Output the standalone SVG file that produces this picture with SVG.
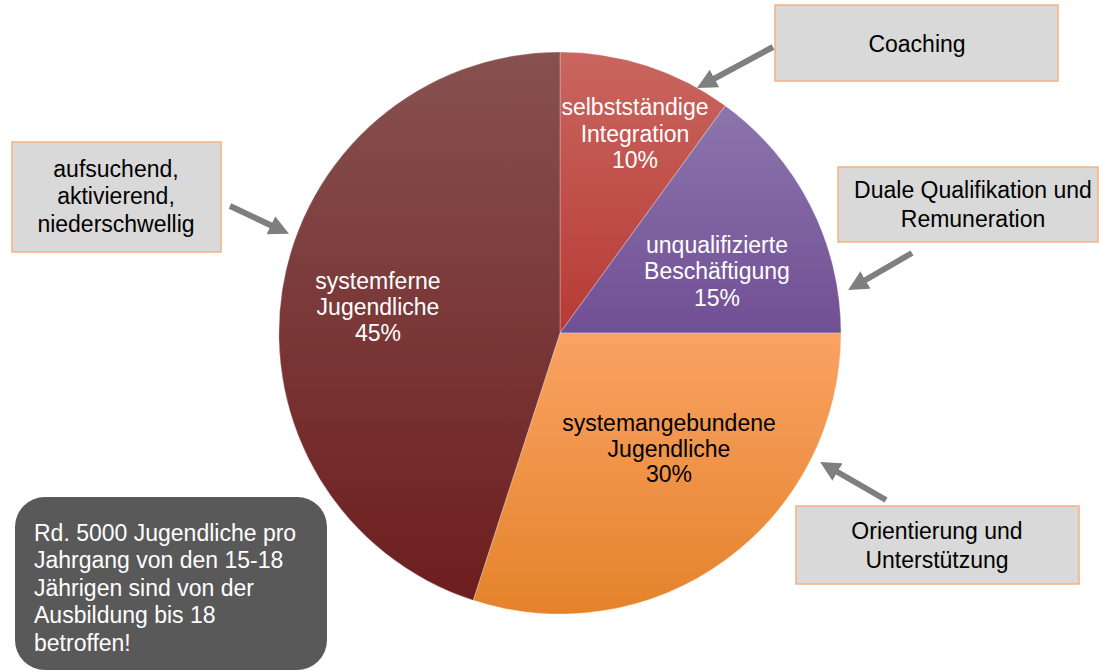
<svg xmlns="http://www.w3.org/2000/svg" width="1099" height="672" viewBox="0 0 1099 672">
<style>
text{font-family:"Liberation Sans",Arial,sans-serif;font-size:23px}
.w{fill:#ffffff}
.b{fill:#000000}
.c{text-anchor:middle}
.box{fill:#D9D9D9;stroke:#F4B183;stroke-width:1.5}
.arr{stroke:#7F7F7F;stroke-width:6;fill:none;marker-end:url(#ah)}
.sl{stroke:#ffffff;stroke-opacity:0.35;stroke-width:0.8}
</style>
<defs>
<linearGradient id="gRed" x1="0" y1="0" x2="0" y2="1"><stop offset="0" stop-color="#C9665F"/><stop offset="1" stop-color="#B73A36"/></linearGradient>
<linearGradient id="gPur" x1="0" y1="0" x2="0" y2="1"><stop offset="0" stop-color="#8C75AD"/><stop offset="1" stop-color="#714F94"/></linearGradient>
<linearGradient id="gOra" x1="0" y1="0" x2="0" y2="1"><stop offset="0" stop-color="#F9A263"/><stop offset="1" stop-color="#E5832B"/></linearGradient>
<linearGradient id="gDk" x1="0" y1="0" x2="0" y2="1"><stop offset="0" stop-color="#875150"/><stop offset="1" stop-color="#6D1E1E"/></linearGradient>
<marker id="ah" viewBox="0 0 10 10" refX="2" refY="5" markerWidth="20" markerHeight="20" markerUnits="userSpaceOnUse" orient="auto">
<path d="M0,0 L10,5 L0,10 Z" fill="#7F7F7F"/>
</marker>
</defs>

<g id="pie">
<path class="sl" d="M560,333 L560,52 A281,281 0 0 1 725.2,105.7 Z" fill="url(#gRed)"/>
<path class="sl" d="M560,333 L725.2,105.7 A281,281 0 0 1 841,333 Z" fill="url(#gPur)"/>
<path class="sl" d="M560,333 L841,333 A281,281 0 0 1 473.2,600.3 Z" fill="url(#gOra)"/>
<path class="sl" d="M560,333 L473.2,600.3 A281,281 0 0 1 560,52 Z" fill="url(#gDk)"/>
</g>

<g id="label-integration">
<text class="w c" x="635" y="115">selbstständige</text>
<text class="w c" x="635" y="142">Integration</text>
<text class="w c" x="635" y="168">10%</text>
</g>
<g id="label-beschaeftigung">
<text class="w c" x="717" y="253">unqualifizierte</text>
<text class="w c" x="717" y="279">Beschäftigung</text>
<text class="w c" x="717" y="306">15%</text>
</g>
<g id="label-systemangebunden">
<text class="b c" x="669" y="431">systemangebundene</text>
<text class="b c" x="669" y="457">Jugendliche</text>
<text class="b c" x="669" y="482">30%</text>
</g>
<g id="label-systemfern">
<text class="w c" x="378" y="289">systemferne</text>
<text class="w c" x="378" y="315">Jugendliche</text>
<text class="w c" x="378" y="341">45%</text>
</g>

<g id="node-coaching">
<rect class="box" x="775" y="5" width="283" height="76"/>
<text class="b c" x="917" y="52">Coaching</text>
</g>
<g id="node-duale">
<rect class="box" x="838" y="167" width="260" height="75"/>
<text class="b c" x="973" y="198">Duale Qualifikation und</text>
<text class="b c" x="973" y="227">Remuneration</text>
</g>
<g id="node-orientierung">
<rect class="box" x="796" y="506" width="283" height="78"/>
<text class="b c" x="937" y="539">Orientierung und</text>
<text class="b c" x="937" y="568">Unterstützung</text>
</g>
<g id="node-aufsuchend">
<rect class="box" x="12" y="142" width="209" height="110"/>
<text class="b c" x="116" y="177">aufsuchend,</text>
<text class="b c" x="116" y="204">aktivierend,</text>
<text class="b c" x="116" y="232">niederschwellig</text>
</g>
<g id="node-info">
<rect x="15" y="497" width="312" height="173" rx="30" ry="30" fill="#595959"/>
<text class="w" x="34" y="541">Rd. 5000 Jugendliche pro</text>
<text class="w" x="34" y="568">Jahrgang von den 15-18</text>
<text class="w" x="34" y="596">Jährigen sind von der</text>
<text class="w" x="34" y="623">Ausbildung bis 18</text>
<text class="w" x="34" y="651">betroffen!</text>
</g>

<g id="connectors">
<line class="arr" x1="773" y1="47" x2="711" y2="80.4"/>
<line class="arr" x1="912" y1="253" x2="862" y2="282"/>
<line class="arr" x1="886" y1="500" x2="834" y2="470"/>
<line class="arr" x1="230" y1="206" x2="274.5" y2="227"/>
</g>
</svg>
